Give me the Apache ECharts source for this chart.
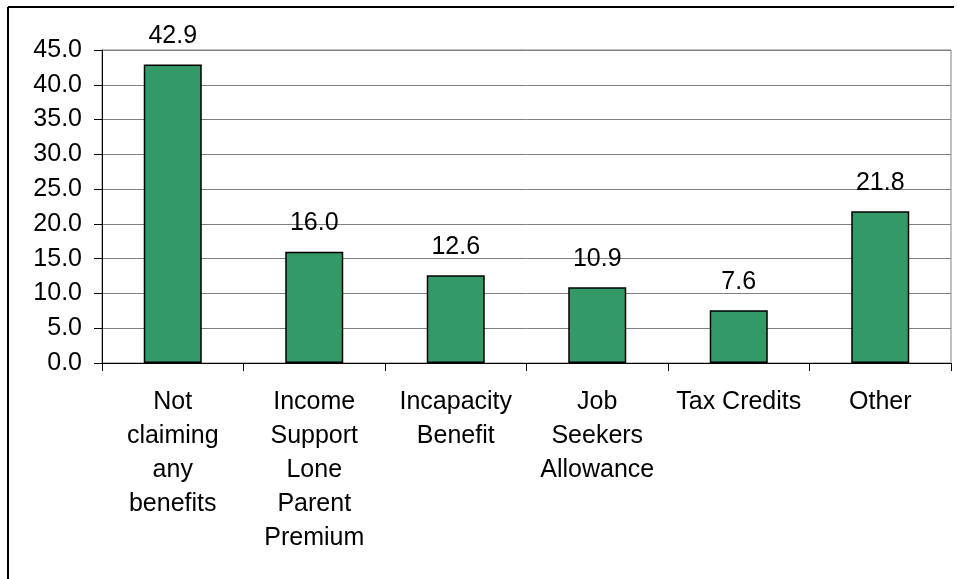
<!DOCTYPE html>
<html>
<head>
<meta charset="utf-8">
<script src="https://cdn.jsdelivr.net/npm/echarts@6/dist/echarts.min.js"></script>
<style>
  html, body { margin: 0; padding: 0; background: #fff; }
  #chart { width: 957px; height: 579px; }
</style>
</head>
<body>
<div id="chart"></div>
<script>
// Benefit categories (line breaks are part of the axis labels)
const categories = [
  'Not\nclaiming\nany\nbenefits',
  'Income\nSupport\nLone\nParent\nPremium',
  'Incapacity\nBenefit',
  'Job\nSeekers\nAllowance',
  'Tax Credits',
  'Other'
];
// Percentage in each category
const values = [42.9, 16.0, 12.6, 10.9, 7.6, 21.8];
// Value axis range
const yMin = 0;
const yMax = 45;
const yStep = 5;

const FONT = "'Liberation Sans', Arial, sans-serif";

const chart = echarts.init(document.getElementById('chart'), null, { renderer: 'canvas' });

chart.setOption({
  animation: false,
  backgroundColor: '#ffffff',
  textStyle: { fontFamily: FONT },
  grid: {
    left: 102, right: 6, top: 50, bottom: 216,
    show: true, borderColor: '#808080', borderWidth: 1, backgroundColor: 'transparent'
  },
  graphic: [
    { type: 'line', shape: { x1: 8, y1: 7, x2: 954, y2: 7 }, style: { stroke: '#000', lineWidth: 2 } },
    { type: 'line', shape: { x1: 8, y1: 7, x2: 8, y2: 579 }, style: { stroke: '#000', lineWidth: 2 } }
  ],
  xAxis: {
    type: 'category',
    data: categories,
    boundaryGap: true,
    axisLine: { show: true, lineStyle: { color: '#000', width: 1 } },
    axisTick: { show: true, length: 8, alignWithLabel: false, lineStyle: { color: '#000' } },
    axisLabel: {
      interval: 0,
      margin: 22,
      color: '#000',
      fontSize: 25,
      lineHeight: 34,
      fontFamily: FONT,
      align: 'center'
    }
  },
  yAxis: {
    type: 'value',
    min: yMin,
    max: yMax,
    interval: yStep,
    axisLine: { show: true, lineStyle: { color: '#000', width: 1 } },
    axisTick: { show: true, length: 8, lineStyle: { color: '#000' } },
    splitLine: { show: true, lineStyle: { color: '#808080', width: 1 } },
    axisLabel: {
      margin: 20,
      color: '#000',
      fontSize: 25,
      fontFamily: FONT,
      formatter: v => v.toFixed(1)
    }
  },
  series: [{
    type: 'bar',
    data: values,
    barWidth: '41%',
    itemStyle: { color: '#339966', borderColor: '#000', borderWidth: 1.5 },
    label: {
      show: true,
      position: 'top',
      distance: 16,
      color: '#000',
      fontSize: 25,
      fontFamily: FONT,
      formatter: p => p.value.toFixed(1)
    }
  }]
});
</script>
</body>
</html>
